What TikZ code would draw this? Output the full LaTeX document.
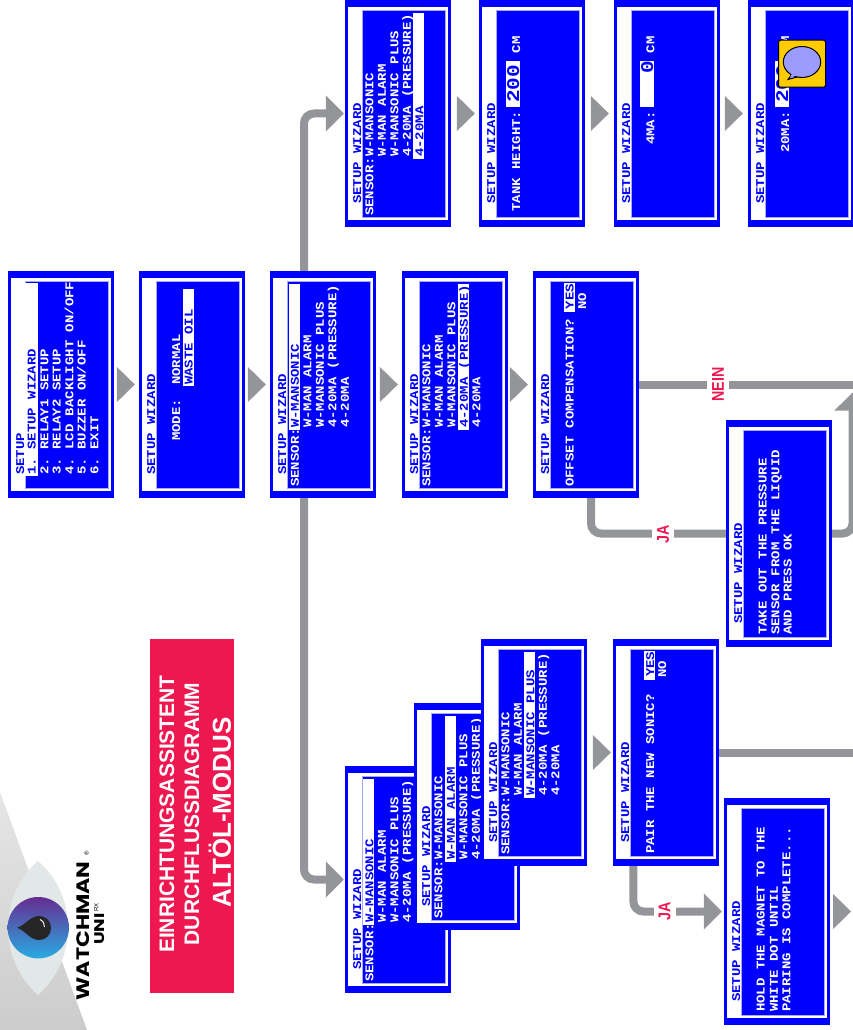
\documentclass[tikz,border=0pt]{standalone}
\usepackage{fontspec}
\setmainfont{Liberation Sans}
\setmonofont{Liberation Mono}
\newfontfamily\logofont{Poppins}
\usetikzlibrary{arrows.meta, positioning}
\definecolor{lcdblue}{HTML}{0000FF}
\definecolor{lcdedge}{HTML}{A8A8FF}
\definecolor{flowgray}{HTML}{939598}
\definecolor{bannerred}{HTML}{EE174F}
\definecolor{iconyellow}{HTML}{FFCC00}
\definecolor{bubblefill}{HTML}{9C9CFF}
\definecolor{lensgray}{HTML}{E2E7E7}
\definecolor{irispurple}{HTML}{662D91}
\definecolor{irismid}{HTML}{5570B8}
\definecolor{irisblue}{HTML}{29ABE2}
\tikzset{
    lcdscreen/.style={fill=lcdblue, minimum width=106pt, minimum height=227pt, inner sep=0pt,
        path picture={
            \fill[white] ([xshift=3pt,yshift=7pt]path picture bounding box.south west) rectangle ([xshift=-3.5pt,yshift=-7pt]path picture bounding box.north east);
            \filldraw[fill=lcdblue,draw=lcdedge,line width=0.8pt] ([xshift=17pt,yshift=10pt]path picture bounding box.south west) rectangle ([xshift=-6pt,yshift=-10pt]path picture bounding box.north east);
        }},
    lcdbar/.style={fill=white, inner sep=0pt},
    lcdtext/.style={text=white, font=\ttfamily\bfseries\fontsize{14}{14}\selectfont, rotate=90, yscale=0.85, anchor=base west, inner sep=0pt},
    lcdsel/.style={lcdtext, text=lcdblue},
    lcdbig/.style={lcdsel, font=\ttfamily\bfseries\fontsize{21}{21}\selectfont},
    flowplain/.style={draw=flowgray, line width=8pt, rounded corners=10pt},
    flowline/.style={flowplain, -{Triangle[length=18pt,width=35pt]}},
    flowtip/.style={draw=flowgray, line width=1pt, -{Triangle[length=18pt,width=35pt]}, shorten <=3pt, shorten >=4pt},
    flowlabel/.style={fill=white, text=bannerred, rotate=90, xscale=0.84, inner sep=0pt, minimum height=22pt, font=\bfseries\fontsize{17}{17}\selectfont},
    bannertext/.style={text=white, rotate=90, inner sep=0pt, font=\bfseries\fontsize{21}{21}\selectfont},
}
\begin{document}
\begin{tikzpicture}[x=1pt, y=-1pt]
    \useasboundingbox (0,0) rectangle (853,1030);

    % logo
    \shade[top color=black!10, middle color=black!2, bottom color=black!20] (0,792) -- (87,1030) -- (0,1030) -- cycle;
    \fill[lensgray] (38,861) .. controls (78,895) and (78,960) .. (38,995) .. controls (-2,960) and (-2,895) .. (38,861) -- cycle;
    \shade[top color=irispurple, middle color=irismid, bottom color=irisblue] (38.3,927.7) circle (30.7);
    \fill[black!85] (17,927.7) .. controls (26,925) and (30,916) .. (39,916) .. controls (46,916) and (51,921) .. (51,928) .. controls (51,935) and (46,940) .. (39,940) .. controls (30,940) and (26,931) .. (17,927.7) -- cycle;
    \draw[white, line width=0.9pt] (40,919.5) .. controls (43,921) and (45,924) .. (44.5,927);
    \node[rotate=90, anchor=base west, inner sep=0pt, xscale=1.23, font=\logofont\bfseries\fontsize{18}{18}\selectfont] (wmark) at (89.3,1000.7) {WATCHMAN};
    \node[rotate=90, anchor=base west, inner sep=0pt, font=\fontsize{6}{6}\selectfont] (wreg) at (88.5,855.5) {\textregistered};
    \node[rotate=90, anchor=base west, inner sep=0pt, xscale=1.28, font=\logofont\bfseries\fontsize{14}{14}\selectfont] (wuni) at (104,945) {UNI};
    \node[rotate=90, anchor=base west, inner sep=0pt, font=\fontsize{6}{6}\selectfont] (wrx) at (98.3,912) {RX};

    % banner
    \node[fill=bannerred, minimum width=84pt, minimum height=354pt, inner sep=0pt] (banner) at (192,815.8) {};
    \node[bannertext] (banner1) at (167,814) {EINRICHTUNGSASSISTENT};
    \node[bannertext] (banner2) at (192,814) {DURCHFLUSSDIAGRAMM};
    \node[bannertext, font=\bfseries\fontsize{26}{26}\selectfont] (banner3) at (220,812.5) {ALTÖL-MODUS};

    % main row
    \node[lcdscreen] (menu) at (61,384.5) {};
    \node[lcdbar, minimum width=13pt, minimum height=193pt] (menubar) at (31.5,379.5) {};
    \node[lcdsel] (menut) at (24,475) {SETUP};
    \node[lcdsel] (menu1) at (35.7,475) {1. SETUP WIZARD};
    \node[lcdtext] (menu2) at (48.3,475) {2. RELAY1 SETUP};
    \node[lcdtext] (menu3) at (60.7,475) {3. RELAY2 SETUP};
    \node[lcdtext] (menu4) at (73.3,475) {4. LCD BACKLIGHT ON/OFF};
    \node[lcdtext] (menu5) at (85.7,475) {5. BUZZER ON/OFF};
    \node[lcdtext] (menu6) at (98.3,475) {6. EXIT};

    \node[lcdscreen] (mode) at (192,384.5) {};
    \node[lcdbar, minimum width=11pt, minimum height=97pt] (modebar) at (188,337.5) {};
    \node[lcdsel] (modet) at (155,475) {SETUP WIZARD};
    \node[lcdtext] (mode1) at (180,441) {MODE:};
    \node[lcdtext] (mode2) at (180,385) {NORMAL};
    \node[lcdsel] (mode3) at (192.7,385) {WASTE OIL};

    \node[lcdscreen] (sens1) at (323,384.5) {};
    \node[lcdbar, minimum width=11pt, minimum height=146pt] (sens1bar) at (294.3,357) {};
    \node[lcdsel] (sens1t) at (286,475) {SETUP WIZARD};
    \node[lcdtext] (sens1s) at (298.8,487) {SENSOR:};
    \node[lcdsel] (sens1a) at (298.8,428) {W-MANSONIC};
    \node[lcdtext] (sens1b) at (311.3,428) {W-MAN ALARM};
    \node[lcdtext] (sens1c) at (323.8,428) {W-MANSONIC PLUS};
    \node[lcdtext] (sens1d) at (336.3,428) {4-20MA (PRESSURE)};
    \node[lcdtext] (sens1e) at (348.8,428) {4-20MA};

    \node[lcdscreen] (sens2) at (455,384.5) {};
    \node[lcdbar, minimum width=11pt, minimum height=146pt] (sens2bar) at (463.3,357) {};
    \node[lcdsel] (sens2t) at (418,475) {SETUP WIZARD};
    \node[lcdtext] (sens2s) at (430.3,487) {SENSOR:};
    \node[lcdtext] (sens2a) at (430.3,428) {W-MANSONIC};
    \node[lcdtext] (sens2b) at (442.8,428) {W-MAN ALARM};
    \node[lcdtext] (sens2c) at (455.3,428) {W-MANSONIC PLUS};
    \node[lcdsel] (sens2d) at (467.8,428) {4-20MA (PRESSURE)};
    \node[lcdtext] (sens2e) at (480.3,428) {4-20MA};

    \node[lcdscreen] (offs) at (586,384.5) {};
    \node[lcdbar, minimum width=11pt, minimum height=29pt] (offsbar) at (569.5,297.5) {};
    \node[lcdsel] (offst) at (549,475) {SETUP WIZARD};
    \node[lcdtext] (offs1) at (573.5,487) {OFFSET COMPENSATION?};
    \node[lcdsel] (offs2) at (573.5,309.5) {YES};
    \node[lcdtext] (offs3) at (586,310) {NO};

    \node[lcdscreen] (press) at (779,533.5) {};
    \node[lcdsel] (presst) at (742,624) {SETUP WIZARD};
    \node[lcdtext] (press1) at (766.7,635) {TAKE OUT THE PRESSURE};
    \node[lcdtext] (press2) at (779.3,635) {SENSOR FROM THE LIQUID};
    \node[lcdtext] (press3) at (791.7,635) {AND PRESS OK};

    % top row
    \node[lcdscreen] (sens3) at (398,113.5) {};
    \node[lcdbar, minimum width=11pt, minimum height=146pt] (sens3bar) at (418.8,86) {};
    \node[lcdsel] (sens3t) at (361,204) {SETUP WIZARD};
    \node[lcdtext] (sens3s) at (373.3,216) {SENSOR:};
    \node[lcdtext] (sens3a) at (373.3,157) {W-MANSONIC};
    \node[lcdtext] (sens3b) at (385.8,157) {W-MAN ALARM};
    \node[lcdtext] (sens3c) at (398.3,157) {W-MANSONIC PLUS};
    \node[lcdtext] (sens3d) at (410.8,157) {4-20MA (PRESSURE)};
    \node[lcdsel] (sens3e) at (423.3,157) {4-20MA};

    \node[lcdscreen] (tank) at (532,113.5) {};
    \node[lcdbar, minimum width=14.5pt, minimum height=46.5pt] (tankbar) at (513,84) {};
    \node[lcdsel] (tankt) at (495,204) {SETUP WIZARD};
    \node[lcdtext] (tank1) at (520,211.7) {TANK HEIGHT:};
    \node[lcdbig] (tank2) at (519,103) {200};
    \node[lcdtext] (tank3) at (520,53.5) {CM};

    \node[lcdscreen] (low) at (667,113.5) {};
    \node[lcdbar, minimum width=14.5pt, minimum height=46.5pt] (lowbar) at (647,84) {};
    \node[lcdsel] (lowt) at (630,204) {SETUP WIZARD};
    \node[lcdtext] (low1) at (654.3,145) {4MA:};
    \node[lcdbig] (low2) at (653,74) {0};
    \node[lcdtext] (low3) at (654.3,53.5) {CM};

    \node[lcdscreen] (high) at (801,113.5) {};
    \node[lcdbar, minimum width=14.5pt, minimum height=46.5pt] (highbar) at (782,84) {};
    \node[lcdsel] (hight) at (764,204) {SETUP WIZARD};
    \node[lcdtext] (high1) at (789,153) {20MA:};
    \node[lcdbig] (high2) at (788,103) {200};
    \node[lcdtext] (high3) at (789,53.5) {CM};

    % comment icon
    \node[draw=black, fill=iconyellow, rounded corners=2pt, line width=1pt, minimum size=47pt, inner sep=0pt] (icon) at (802,63.7) {};
    \filldraw[fill=bubblefill, draw=black, line width=1pt] (792,74) -- (788,79.5) -- (799,76.5) -- cycle;
    \filldraw[fill=bubblefill, draw=black, line width=1pt] (802,62) ellipse [x radius=18.7, y radius=15.5];
    \fill[bubblefill] (792.5,72.5) -- (790,77.5) -- (798.5,75) -- cycle;

    % bottom stack
    \node[lcdscreen] (sens4) at (398,879.5) {};
    \node[lcdbar, minimum width=11pt, minimum height=146pt] (sens4bar) at (368.8,852) {};
    \node[lcdsel] (sens4t) at (361,970) {SETUP WIZARD};
    \node[lcdtext] (sens4s) at (373.3,982) {SENSOR:};
    \node[lcdsel] (sens4a) at (373.3,923) {W-MANSONIC};
    \node[lcdtext] (sens4b) at (385.8,923) {W-MAN ALARM};
    \node[lcdtext] (sens4c) at (398.3,923) {W-MANSONIC PLUS};
    \node[lcdtext] (sens4d) at (410.8,923) {4-20MA (PRESSURE)};

    \node[lcdscreen] (sens5) at (467,816.5) {};
    \node[lcdbar, minimum width=11pt, minimum height=146pt] (sens5bar) at (450.3,789) {};
    \node[lcdsel] (sens5t) at (430,907) {SETUP WIZARD};
    \node[lcdtext] (sens5s) at (442.3,919) {SENSOR:};
    \node[lcdtext] (sens5a) at (442.3,860) {W-MANSONIC};
    \node[lcdsel] (sens5b) at (454.8,860) {W-MAN ALARM};
    \node[lcdtext] (sens5c) at (467.3,860) {W-MANSONIC PLUS};
    \node[lcdtext] (sens5d) at (479.8,860) {4-20MA (PRESSURE)};
    \node[lcdtext] (sens5e) at (492.3,860) {4-20MA};

    \node[lcdscreen] (sens6) at (534,752.5) {};
    \node[lcdbar, minimum width=11pt, minimum height=146pt] (sens6bar) at (529.8,725) {};
    \node[lcdsel] (sens6t) at (497,843) {SETUP WIZARD};
    \node[lcdtext] (sens6s) at (509.3,855) {SENSOR:};
    \node[lcdtext] (sens6a) at (509.3,796) {W-MANSONIC};
    \node[lcdtext] (sens6b) at (521.8,796) {W-MAN ALARM};
    \node[lcdsel] (sens6c) at (534.3,796) {W-MANSONIC PLUS};
    \node[lcdtext] (sens6d) at (546.8,796) {4-20MA (PRESSURE)};
    \node[lcdtext] (sens6e) at (559.3,796) {4-20MA};

    \node[lcdscreen] (pair) at (666,752.5) {};
    \node[lcdbar, minimum width=11pt, minimum height=29pt] (pairbar) at (649.3,665) {};
    \node[lcdsel] (pairt) at (629,843) {SETUP WIZARD};
    \node[lcdtext] (pair1) at (654,854) {PAIR THE NEW SONIC?};
    \node[lcdsel] (pair2) at (654,677) {YES};
    \node[lcdtext] (pair3) at (666,677.7) {NO};

    \node[lcdscreen] (hold) at (777,911.5) {};
    \node[lcdsel] (holdt) at (740,1002) {SETUP WIZARD};
    \node[lcdtext] (hold1) at (764.6,1012) {HOLD THE MAGNET TO THE};
    \node[lcdtext] (hold2) at (777.8,1012) {WHITE DOT UNTIL};
    \node[lcdtext] (hold3) at (790.3,1012) {PAIRING IS COMPLETE...};

    % free ends
    \coordinate (neinend) at (860,384.5);
    \coordinate (neinjoin) at (852.5,384.5);
    \coordinate (pairend) at (860,752.5);
    \coordinate (holdnext) at (851,911.5);

    % connectors
    \draw[flowtip] (menu) -- (mode);
    \draw[flowtip] (mode) -- (sens1);
    \draw[flowtip, shorten <=4pt] (sens1) -- (sens2);
    \draw[flowtip, shorten >=5pt] (sens2) -- (offs);
    \draw[flowtip, shorten <=6pt, shorten >=4pt] (sens3) -- (tank);
    \draw[flowtip, shorten <=7pt, shorten >=5pt] (tank) -- (low);
    \draw[flowtip, shorten <=6pt, shorten >=5pt] (low) -- (high);
    \draw[flowtip, shorten <=6pt, shorten >=2pt] (sens6) -- (pair);
    \draw[flowtip, shorten >=0pt] (hold) -- (holdnext);
    \draw[flowline, shorten >=1pt] ([xshift=-19pt]sens1.north) |- (sens3.west);
    \draw[flowline, shorten >=1pt] ([xshift=-19pt]sens1.south) |- (sens4.west);
    \draw[flowplain] (offs) -- (neinend);
    \draw[flowplain] ([xshift=5pt]offs.south) |- (press.west);
    \draw[flowline, shorten >=8pt] (press.east) -| (neinjoin);
    \draw[flowplain] (pair) -- (pairend);
    \draw[flowline, shorten >=2pt] ([xshift=-32.6pt]pair.south) |- (hold.west);

    % labels
    \node[flowlabel] (nein) at (718,384.5) {NEIN};
    \node[flowlabel] (ja1) at (663,534) {JA};
    \node[flowlabel] (ja2) at (664.5,911.5) {JA};
\end{tikzpicture}
\end{document}
